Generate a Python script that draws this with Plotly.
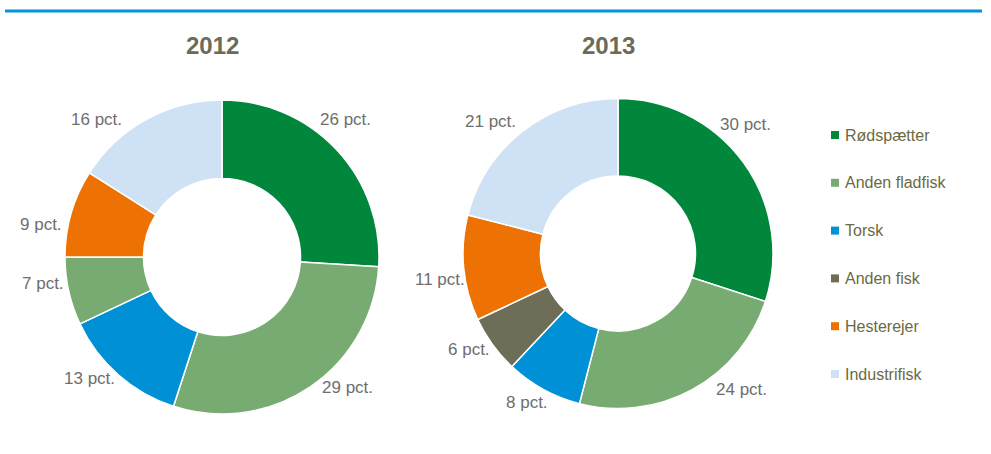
import plotly.graph_objects as go

W, H = 991, 454

# Catch composition by species group (share of total, pct.)
species = ["Rødspætter", "Anden fladfisk", "Torsk", "Anden fisk", "Hesterejer", "Industrifisk"]
years = ["2012", "2013"]
share_2012 = [26, 29, 13, 7, 9, 16]
share_2013 = [30, 24, 8, 6, 11, 21]

# Species colours (legend order)
species_colors = ["#00873C", "#78AB72", "#0090D5", "#6E6E58", "#EE7203", "#CFE2F5"]
# Slice colours per year (2012 draws "Anden fisk" in the flatfish green)
colors_2012 = ["#00873C", "#78AB72", "#0090D5", "#78AB72", "#EE7203", "#CFE2F5"]
colors_2013 = species_colors

FONT = "Liberation Sans, Arial, sans-serif"
LABEL_COLOR = "#6E6E6E"
TITLE_COLOR = "#6B6B5B"
LEGEND_COLOR = "#6B6A42"

# Value-label placement: pixel offsets from the ring centre, per slice
label_offsets_2012 = [(123, -137), (125, 130), (-133, 121), (-179, 26), (-181, -32), (-126, -137)]
label_offsets_2013 = [(127, -129), (123, 136), (-91, 149), (-149, 96), (-178, 26), (-128, -132)]

# Ring geometry in pixels: centre x, centre y (from top), outer radius
pies = [
    dict(year=years[0], values=share_2012, colors=colors_2012,
         offsets=label_offsets_2012, cx=222, cy=257, r=157, title_x=212),
    dict(year=years[1], values=share_2013, colors=colors_2013,
         offsets=label_offsets_2013, cx=618, cy=253.5, r=155, title_x=608),
]

fig = go.Figure()
annotations = []
shapes = []

for p in pies:
    cx, cy, r = p["cx"], p["cy"], p["r"]
    fig.add_trace(go.Pie(
        labels=species,
        values=p["values"],
        sort=False,
        direction="clockwise",
        rotation=0,
        hole=0.5,
        textinfo="none",
        hoverinfo="label+value",
        showlegend=False,
        marker=dict(colors=p["colors"], line=dict(color="white", width=1.5)),
        domain=dict(x=[(cx - r) / W, (cx + r) / W],
                    y=[(H - cy - r) / H, (H - cy + r) / H]),
    ))
    # Year heading above each ring
    annotations.append(dict(
        x=p["title_x"] / W, y=(H - 45) / H, xref="paper", yref="paper",
        text=f"<b>{p['year']}</b>", showarrow=False,
        font=dict(family=FONT, size=24, color=TITLE_COLOR),
        xanchor="center", yanchor="middle",
    ))
    # Value labels outside the ring
    for v, (dx, dy) in zip(p["values"], p["offsets"]):
        if v <= 0:
            continue
        annotations.append(dict(
            x=(cx + dx) / W, y=(H - cy - dy) / H, xref="paper", yref="paper",
            text=f"{v} pct.", showarrow=False,
            font=dict(family=FONT, size=17, color=LABEL_COLOR),
            xanchor="center", yanchor="middle",
        ))

# Legend: coloured squares with species names
leg_x, leg_y0, leg_dy, sq = 831, 135, 47.8, 8
for i, (name, col) in enumerate(zip(species, species_colors)):
    y = leg_y0 + i * leg_dy
    shapes.append(dict(
        type="rect", xref="paper", yref="paper",
        x0=leg_x / W, x1=(leg_x + sq) / W,
        y0=(H - y - sq / 2) / H, y1=(H - y + sq / 2) / H,
        fillcolor=col, line=dict(width=0),
    ))
    annotations.append(dict(
        x=(leg_x + sq + 4) / W, y=(H - y) / H, xref="paper", yref="paper",
        text=name, showarrow=False,
        font=dict(family=FONT, size=16, color=LEGEND_COLOR),
        xanchor="left", yanchor="middle",
    ))

# Blue rule along the top
shapes.append(dict(
    type="line", xref="paper", yref="paper",
    x0=5 / W, x1=982 / W, y0=(H - 11) / H, y1=(H - 11) / H,
    line=dict(color="#0095D9", width=3),
))

fig.update_layout(
    width=W, height=H,
    margin=dict(l=0, r=0, t=0, b=0),
    paper_bgcolor="white", plot_bgcolor="white",
    annotations=annotations, shapes=shapes,
)

fig.write_html("out.html")
